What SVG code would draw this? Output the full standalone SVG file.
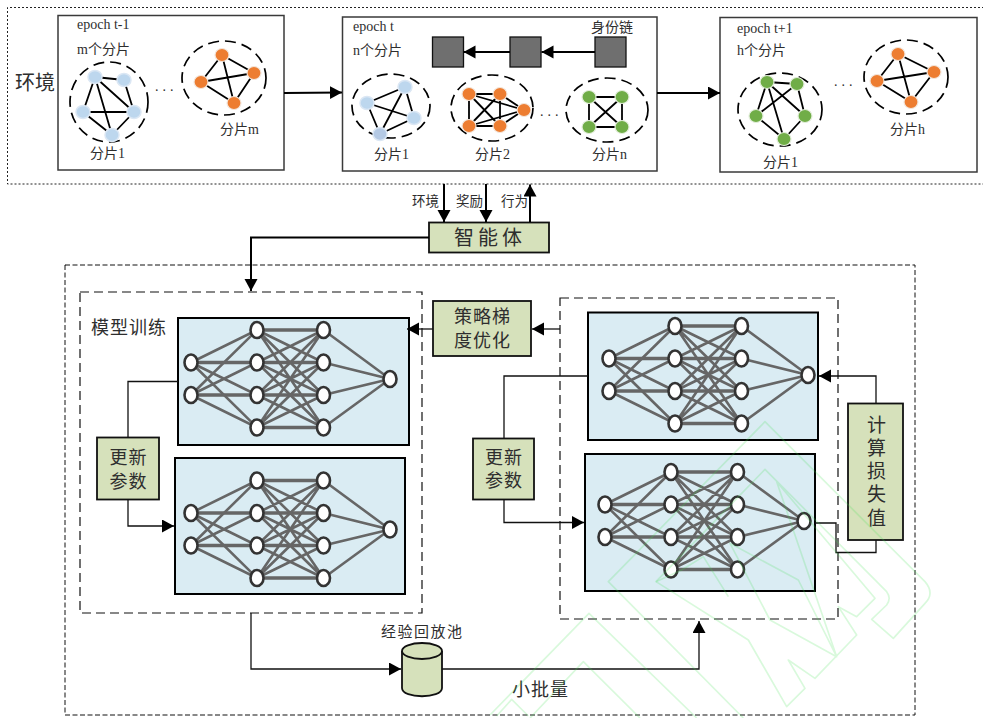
<svg xmlns="http://www.w3.org/2000/svg" xmlns:xlink="http://www.w3.org/1999/xlink" width="983" height="718" viewBox="0 0 983 718">
<style>
text{font-family:"Liberation Serif","Noto Sans CJK SC",serif;fill:#2e2e2e;font-size:14px}
.box{fill:#fff;stroke:#3a3a3a;stroke-width:1.5}
.dot{fill:none;stroke:#222;stroke-width:1;stroke-dasharray:2 2}
.dash{fill:none;stroke:#111;stroke-width:1;stroke-dasharray:5 2.5}
.dash2{fill:none;stroke:#111;stroke-width:1.2;stroke-dasharray:9 5}
.ring{fill:none;stroke:#000;stroke-width:1.7;stroke-dasharray:11 6}
.e{fill:none;stroke:#000;stroke-width:1.8}
.blue{fill:#bdd7ee;stroke:#dbe7f4;stroke-width:1.5}
.orange{fill:#ed7d31;stroke:#f3e6dc;stroke-width:1.2}
.green{fill:#70ad47;stroke:#e3eedb;stroke-width:1.2}
.sq{fill:#6f6f6f;stroke:#111;stroke-width:1.3}
.cmd{fill:#d6e1bb;stroke:#111;stroke-width:1.8}
.panel{fill:#daecf3;stroke:#000;stroke-width:2}
.nne{fill:none;stroke:#666;stroke-width:2.6}
.nnh{fill:none;stroke:#666;stroke-width:3.6}
.nn{fill:#fff;stroke:#333;stroke-width:2.6}
.c1{fill:none;stroke:#000;stroke-width:2}
.c2{fill:none;stroke:#111;stroke-width:1.3}
.big{font-size:18px;letter-spacing:1px}
.m{text-anchor:middle}
.wm{fill:none;stroke:#3fe24f;stroke-opacity:.2;stroke-width:5;stroke-linejoin:round}
</style>
<defs>
<marker id="ah" markerUnits="userSpaceOnUse" markerWidth="15" markerHeight="15" refX="12" refY="6.500" orient="auto"><path d="M0 0L12 6.500L0 13Z" fill="#000"/></marker>
<g id="net">
<path class="nnh" d="M0 32.500H66M0 65H66M66 0H132.500M66 32.500H132.500M66 65H132.500M66 97.500H132.500"/>
<path class="nne" d="M0 32.500L66 0M0 32.500L66 65M0 32.500L66 97.500M0 65L66 0M0 65L66 32.500M0 65L66 97.500
M66 0L132.500 32.500M66 0L132.500 65M66 0L132.500 97.500M66 32.500L132.500 0M66 32.500L132.500 65M66 32.500L132.500 97.500
M66 65L132.500 0M66 65L132.500 32.500M66 65L132.500 97.500M66 97.500L132.500 0M66 97.500L132.500 32.500M66 97.500L132.500 65
M132.500 0L199 49M132.500 32.500L199 49M132.500 65L199 49M132.500 97.500L199 49"/>
<g class="nn">
<ellipse cx="0" cy="32.500" rx="6.500" ry="8"/><ellipse cx="0" cy="65" rx="6.500" ry="8"/>
<ellipse cx="66" cy="0" rx="6.500" ry="8"/><ellipse cx="66" cy="32.500" rx="6.500" ry="8"/><ellipse cx="66" cy="65" rx="6.500" ry="8"/><ellipse cx="66" cy="97.500" rx="6.500" ry="8"/>
<ellipse cx="132.500" cy="0" rx="6.500" ry="8"/><ellipse cx="132.500" cy="32.500" rx="6.500" ry="8"/><ellipse cx="132.500" cy="65" rx="6.500" ry="8"/><ellipse cx="132.500" cy="97.500" rx="6.500" ry="8"/>
<ellipse cx="199" cy="49" rx="6.500" ry="8"/>
</g>
</g>
</defs>
<rect width="983" height="718" fill="#fff"/>

<g id="frames">
<path class="dot" d="M984 7.500H7.500V184H984"/>
<rect class="dash" x="65" y="265" width="850" height="450"/>
<rect class="dash2" x="80" y="292" width="342" height="321"/>
<rect class="dash2" x="560" y="298" width="278" height="321"/>
</g>
<text id="label-env" x="15" y="90" style="font-size:20px">环境</text>

<g id="epoch-prev">
<rect class="box" x="58" y="15.500" width="226" height="154.500"/>
<text x="77" y="29">epoch t-1</text>
<text x="77" y="54">m个分片</text>
<g id="shard-a1">
<ellipse class="ring" cx="109" cy="102" rx="39" ry="40"/>
<path class="e" d="M95 77L124 80M95 77L83 112M95 77L134 112M95 77L112 135M124 80L134 112M83 112L134 112M83 112L112 135M134 112L112 135"/>
<g class="blue"><ellipse cx="95" cy="77" rx="7" ry="6.500"/><ellipse cx="124" cy="80" rx="7" ry="6.500"/><ellipse cx="83" cy="112" rx="7" ry="6.500"/><ellipse cx="134" cy="112" rx="7" ry="6.500"/><ellipse cx="112" cy="135" rx="7" ry="6.500"/></g>
<text x="90" y="158">分片1</text>
</g>
<text x="155" y="91" style="font-size:14px;letter-spacing:4px">...</text>
<g id="shard-am">
<ellipse class="ring" cx="224" cy="78" rx="42" ry="37"/>
<path class="e" d="M222 55L254 73M222 55L201 82M222 55L234 103M254 73L201 82M254 73L234 103M201 82L234 103"/>
<g class="orange"><ellipse cx="222" cy="55" rx="7" ry="6.500"/><ellipse cx="254" cy="73" rx="7" ry="6.500"/><ellipse cx="201" cy="82" rx="7" ry="6.500"/><ellipse cx="234" cy="103" rx="7" ry="6.500"/></g>
<text x="220" y="134">分片m</text>
</g>
</g>

<g id="epoch-cur">
<rect class="box" x="342.500" y="17" width="314.500" height="154"/>
<text x="353" y="31">epoch t</text>
<text x="353" y="55">n个分片</text>
<text x="591" y="32">身份链</text>
<g id="chain-1"><rect class="sq" x="432.500" y="37" width="31" height="30"/></g>
<g id="chain-2"><rect class="sq" x="510" y="37" width="31" height="30"/></g>
<g id="chain-3"><rect class="sq" x="595" y="37" width="31" height="30"/></g>
<g id="shard-b1">
<ellipse class="ring" cx="391" cy="106" rx="39" ry="32"/>
<path class="e" d="M405 87L367 103M405 87L414 118M405 87L380 134M367 103L414 118M367 103L380 134M414 118L380 134"/>
<g class="blue"><ellipse cx="405" cy="87" rx="7" ry="6.500"/><ellipse cx="367" cy="103" rx="7" ry="6.500"/><ellipse cx="414" cy="118" rx="7" ry="6.500"/><ellipse cx="380" cy="134" rx="7" ry="6.500" style="fill:#b4c9e4"/></g>
<text x="374" y="159">分片1</text>
</g>
<g id="shard-b2">
<ellipse class="ring" cx="492" cy="108" rx="41" ry="33"/>
<path class="e" d="M469 94L500 94M469 94L524 110M469 94L469 126M469 94L500 126M500 94L524 110M500 94L469 126M500 94L500 126M524 110L469 126M524 110L500 126M469 126L500 126"/>
<g class="orange"><ellipse cx="469" cy="94" rx="7" ry="6.500"/><ellipse cx="500" cy="94" rx="7" ry="6.500"/><ellipse cx="524" cy="110" rx="7" ry="6.500"/><ellipse cx="469" cy="126" rx="7" ry="6.500"/><ellipse cx="500" cy="126" rx="7" ry="6.500"/></g>
<text x="475" y="159">分片2</text>
</g>
<text x="540" y="116" style="font-size:14px;letter-spacing:4px">...</text>
<g id="shard-bn">
<ellipse class="ring" cx="607" cy="110" rx="41" ry="32"/>
<path class="e" d="M589 97L622 97M589 97L589 127M589 97L622 127M622 97L589 127M622 97L622 127M589 127L622 127"/>
<g class="green"><ellipse cx="589" cy="97" rx="7" ry="6.500"/><ellipse cx="622" cy="97" rx="7" ry="6.500"/><ellipse cx="589" cy="127" rx="7" ry="6.500"/><ellipse cx="622" cy="127" rx="7" ry="6.500"/></g>
<text x="592" y="159">分片n</text>
</g>
</g>

<g id="epoch-next">
<rect class="box" x="720" y="17.500" width="257" height="154.500"/>
<text x="737" y="33">epoch t+1</text>
<text x="737" y="55">h个分片</text>
<g id="shard-c1">
<ellipse class="ring" cx="780" cy="109.500" rx="42" ry="36.500"/>
<path class="e" d="M767 82L797 84M767 82L756 116M767 82L805 116M767 82L784 139M797 84L756 116M797 84L805 116M756 116L784 139M805 116L784 139"/>
<g class="green"><ellipse cx="767" cy="82" rx="7" ry="6.500"/><ellipse cx="797" cy="84" rx="7" ry="6.500"/><ellipse cx="756" cy="116" rx="7" ry="6.500"/><ellipse cx="805" cy="116" rx="7" ry="6.500"/><ellipse cx="784" cy="139" rx="7" ry="6.500"/></g>
<text x="763" y="167">分片1</text>
</g>
<text x="834" y="86" style="font-size:14px;letter-spacing:4px">...</text>
<g id="shard-ch">
<ellipse class="ring" cx="906" cy="77" rx="42" ry="37"/>
<path class="e" d="M898 54L934 72M898 54L877 81M898 54L911 102M934 72L877 81M934 72L911 102M877 81L911 102"/>
<g class="orange"><ellipse cx="898" cy="54" rx="7" ry="6.500"/><ellipse cx="934" cy="72" rx="7" ry="6.500"/><ellipse cx="877" cy="81" rx="7" ry="6.500"/><ellipse cx="911" cy="102" rx="7" ry="6.500"/></g>
<text x="890" y="134">分片h</text>
</g>
</g>

<g id="agent">
<rect class="cmd" x="429" y="222.500" width="120" height="30"/>
<text class="m" x="490" y="245" style="font-size:20px;letter-spacing:4px">智能体</text>
</g>
<text x="412" y="206" style="font-size:13.500px">环境</text>
<text x="456" y="206" style="font-size:13.500px">奖励</text>
<text x="501" y="206" style="font-size:13.500px">行为</text>

<g id="net-tl"><rect class="panel" x="178" y="318" width="231" height="127"/><use xlink:href="#net" href="#net" x="191" y="330"/></g>
<g id="net-bl"><rect class="panel" x="175" y="458" width="230" height="136"/><use xlink:href="#net" href="#net" x="191" y="480.500"/></g>
<g id="net-tr"><rect class="panel" x="588" y="312.500" width="230" height="127.500"/><use xlink:href="#net" href="#net" x="609" y="326"/></g>
<g id="net-br"><rect class="panel" x="585" y="454" width="230" height="137"/><use xlink:href="#net" href="#net" x="605" y="472"/></g>
<text class="big" x="91" y="334">模型训练</text>

<g id="update-left">
<rect class="cmd" x="97" y="437.500" width="62" height="62"/>
<text class="big m" x="128.500" y="464">更新</text>
<text class="big m" x="128.500" y="488">参数</text>
</g>
<g id="update-right">
<rect class="cmd" x="473" y="438.500" width="61" height="61"/>
<text class="big m" x="504" y="464">更新</text>
<text class="big m" x="504" y="487">参数</text>
</g>
<g id="policy">
<rect class="cmd" x="433" y="301" width="98" height="55"/>
<text class="big m" x="482.500" y="323">策略梯</text>
<text class="big m" x="482.500" y="347">度优化</text>
</g>
<g id="loss">
<rect class="cmd" x="848" y="403.500" width="55" height="136.500"/>
<text class="m" x="876.500" y="432" style="font-size:19px">计</text>
<text class="m" x="876.500" y="455" style="font-size:19px">算</text>
<text class="m" x="876.500" y="478" style="font-size:19px">损</text>
<text class="m" x="876.500" y="501" style="font-size:19px">失</text>
<text class="m" x="876.500" y="525" style="font-size:19px">值</text>
</g>
<g id="replay">
<path class="cmd" d="M402 651V688C402 699 442 699 442 688V651" />
<ellipse class="cmd" cx="422" cy="651" rx="20" ry="8"/>
<text x="381" y="637" style="font-size:15px;letter-spacing:1.500px">经验回放池</text>
</g>
<text class="big" x="512" y="696">小批量</text>

<g id="connectors">
<path class="c1" marker-end="url(#ah)" d="M284 93L342 92.500"/>
<path class="c1" marker-end="url(#ah)" d="M657 93H720"/>
<path class="c1" marker-end="url(#ah)" d="M595 52H541.500"/>
<path class="c1" marker-end="url(#ah)" d="M510 52H463.500"/>
<path class="c1" marker-end="url(#ah)" d="M444 184V222"/>
<path class="c1" marker-end="url(#ah)" d="M486 184V222"/>
<path class="c1" marker-end="url(#ah)" d="M530 222V184.500"/>
<path class="c1" marker-end="url(#ah)" d="M429 237.500H251V291"/>
<path class="c2" marker-end="url(#ah)" d="M433 329H407"/>
<path class="c2" marker-end="url(#ah)" d="M560 329H532"/>
<path class="c2" d="M178 381.500H128V437"/>
<path class="c2" marker-end="url(#ah)" d="M128 499.500V526H174"/>
<path class="c2" d="M588 376H504V438"/>
<path class="c2" marker-end="url(#ah)" d="M504 499.500V522.500H584"/>
<path class="c2" marker-end="url(#ah)" d="M876 403V376H819"/>
<path class="c2" d="M815 523H836V552.500H876V540"/>
<path class="c2" marker-end="url(#ah)" d="M251 613V669H401"/>
<path class="c2" marker-end="url(#ah)" d="M442 669H699V621"/>
</g>

<g id="watermark" transform="translate(490 410) scale(.33333)">
<path class="wm" d="M760 924L355 515L825 35L1305 515Q1335 550 1305 580L1210 685L1145 628L1190 585Q1205 565 1190 545L825 178L498 515L775 690L890 890L945 835L895 750L975 805L1100 675L1045 590L1100 620L1155 565L860 215L1040 740L840 630L720 400L925 510L1040 740"/>
<path class="wm" d="M498 515L575 480L640 440L715 560"/>
<path class="wm" d="M620 924L297 610L0 915M450 924L280 755L120 924M20 918L65 868L115 918"/>
</g>
</svg>
